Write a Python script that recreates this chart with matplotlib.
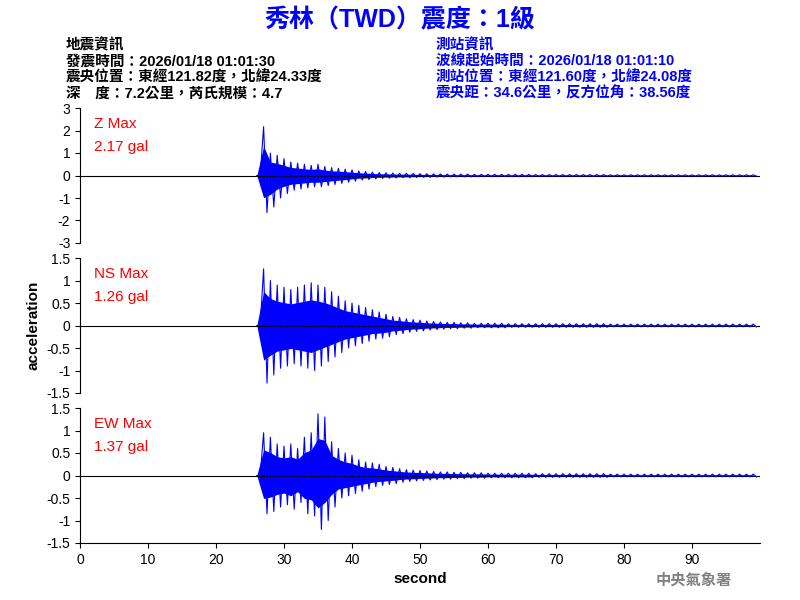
import numpy as np
import matplotlib.pyplot as plt

FAM = ['Liberation Sans', 'Noto Sans CJK TC']
plt.rcParams['font.family'] = FAM

# envelope of each trace, one value per second from 26 s to 99 s
t = list(range(26, 100))
z_up = [0, 2.17, 1.0, 0.9, 0.75, 0.6, 0.55, 0.5, 0.45, 0.5, 0.4, 0.35, 0.32, 0.28, 0.25, 0.2, 0.18, 0.15,
        0.13, 0.12, 0.11, 0.1, 0.1, 0.09, 0.08, 0.08, 0.07, 0.07, 0.06, 0.06, 0.06, 0.06, 0.05, 0.05,
        0.05, 0.05, 0.05, 0.05, 0.05, 0.05, 0.05, 0.04, 0.04, 0.04, 0.04, 0.04, 0.04, 0.04, 0.04, 0.04,
        0.04, 0.04, 0.03, 0.03, 0.03, 0.03, 0.03, 0.03, 0.03, 0.03, 0.03, 0.03, 0.03, 0.03, 0.03, 0.03,
        0.03, 0.03, 0.03, 0.03, 0.03, 0.03, 0.03, 0.03]
z_lo = [0, -1.65, -1.4, -1.0, -0.8, -0.65, -0.6, -0.55, -0.5, -0.5, -0.45, -0.4, -0.35, -0.3, -0.25, -0.2,
        -0.18, -0.15, -0.13, -0.12, -0.11, -0.1, -0.1, -0.09, -0.08, -0.08, -0.07, -0.07, -0.06, -0.06,
        -0.06, -0.06, -0.05, -0.05, -0.05, -0.05, -0.05, -0.05, -0.05, -0.05, -0.05, -0.04, -0.04, -0.04,
        -0.04, -0.04, -0.04, -0.04, -0.04, -0.04, -0.04, -0.04, -0.03, -0.03, -0.03, -0.03, -0.03, -0.03,
        -0.03, -0.03, -0.03, -0.03, -0.03, -0.03, -0.03, -0.03, -0.03, -0.03, -0.03, -0.03, -0.03, -0.03,
        -0.03, -0.03]
ns_up = [0, 1.26, 1.0, 0.9, 0.85, 0.8, 0.85, 0.9, 0.95, 0.9, 0.85, 0.75, 0.65, 0.55, 0.5, 0.45, 0.4, 0.35,
         0.3, 0.25, 0.2, 0.18, 0.15, 0.13, 0.12, 0.1, 0.09, 0.08, 0.07, 0.07, 0.06, 0.06, 0.05, 0.05,
         0.05, 0.05, 0.05, 0.04, 0.04, 0.04, 0.04, 0.04, 0.04, 0.04, 0.04, 0.04, 0.04, 0.04, 0.04, 0.04,
         0.04, 0.04, 0.03, 0.03, 0.03, 0.03, 0.03, 0.03, 0.03, 0.03, 0.03, 0.03, 0.03, 0.03, 0.03, 0.03,
         0.03, 0.03, 0.03, 0.03, 0.03, 0.03, 0.03, 0.03]
ns_lo = [0, -1.28, -1.1, -0.95, -0.9, -0.85, -0.9, -0.95, -1.0, -0.9, -0.8, -0.7, -0.6, -0.5, -0.45, -0.4,
         -0.35, -0.3, -0.28, -0.25, -0.2, -0.18, -0.15, -0.13, -0.12, -0.1, -0.09, -0.08, -0.07, -0.07,
         -0.06, -0.06, -0.05, -0.05, -0.05, -0.05, -0.05, -0.04, -0.04, -0.04, -0.04, -0.04, -0.04, -0.04,
         -0.04, -0.04, -0.04, -0.04, -0.04, -0.04, -0.04, -0.04, -0.03, -0.03, -0.03, -0.03, -0.03, -0.03,
         -0.03, -0.03, -0.03, -0.03, -0.03, -0.03, -0.03, -0.03, -0.03, -0.03, -0.03, -0.03, -0.03, -0.03,
         -0.03, -0.03]
ew_up = [0, 0.95, 0.85, 0.7, 0.65, 0.7, 0.6, 0.85, 0.95, 1.37, 1.3, 0.75, 0.6, 0.5, 0.45, 0.35, 0.3, 0.28,
         0.25, 0.2, 0.18, 0.15, 0.13, 0.12, 0.11, 0.1, 0.09, 0.08, 0.08, 0.07, 0.07, 0.06, 0.06, 0.06,
         0.05, 0.05, 0.05, 0.05, 0.05, 0.05, 0.05, 0.04, 0.04, 0.04, 0.04, 0.04, 0.04, 0.04, 0.04, 0.04,
         0.04, 0.04, 0.03, 0.03, 0.03, 0.03, 0.03, 0.03, 0.03, 0.03, 0.03, 0.03, 0.03, 0.03, 0.03, 0.03,
         0.03, 0.03, 0.03, 0.03, 0.03, 0.03, 0.03, 0.03]
ew_lo = [0, -0.85, -0.8, -0.7, -0.65, -0.75, -0.6, -0.85, -0.9, -1.2, -1.0, -0.7, -0.5, -0.45, -0.4, -0.35,
         -0.3, -0.25, -0.22, -0.2, -0.18, -0.15, -0.13, -0.12, -0.11, -0.1, -0.09, -0.08, -0.08, -0.07,
         -0.07, -0.06, -0.06, -0.06, -0.05, -0.05, -0.05, -0.05, -0.05, -0.05, -0.05, -0.04, -0.04, -0.04,
         -0.04, -0.04, -0.04, -0.04, -0.04, -0.04, -0.04, -0.04, -0.03, -0.03, -0.03, -0.03, -0.03, -0.03,
         -0.03, -0.03, -0.03, -0.03, -0.03, -0.03, -0.03, -0.03, -0.03, -0.03, -0.03, -0.03, -0.03, -0.03,
         -0.03, -0.03]

names = ['Z Max', 'NS Max', 'EW Max']
peaks = ['2.17 gal', '1.26 gal', '1.37 gal']
lims = [3, 1.5, 1.5]
ticks = [[3, 2, 1, 0, -1, -2, -3], [1.5, 1, 0.5, 0, -0.5, -1, -1.5], [1.5, 1, 0.5, 0, -0.5, -1, -1.5]]
tlabels = [['3', '2', '1', '0', '-1', '-2', '-3'],
           ['1.5', '1', '0.5', '0', '-0.5', '-1', '-1.5'],
           ['1.5', '1', '0.5', '0', '-0.5', '-1', '-1.5']]
ups = [z_up, ns_up, ew_up]
los = [z_lo, ns_lo, ew_lo]

fig = plt.figure(figsize=(8, 6), dpi=100)
bottoms = [0.595, 0.345, 0.095]
for i in range(3):
    ax = fig.add_axes([0.1, bottoms[i], 0.85, 0.225])
    ax.axhline(0, color='black', lw=0.8)
    # trace drawn as a zig-zag between the envelope values
    xs, ys = [], []
    for k in range(len(t)):
        xs += [t[k], t[k] + 0.5]
        ys += [ups[i][k], los[i][k]]
    ax.fill_between(t, np.array(los[i]) * 0.6, np.array(ups[i]) * 0.6, color='blue', lw=0)
    ax.plot(xs, ys, color='blue', lw=0.8)
    ax.set_xlim(0, 100)
    ax.set_ylim(-lims[i], lims[i])
    ax.set_yticks(ticks[i])
    ax.set_yticklabels(tlabels[i], fontsize=10)
    for s in ['top', 'right', 'bottom']:
        ax.spines[s].set_visible(False)
    if i < 2:
        ax.set_xticks([])
    else:
        ax.spines['bottom'].set_visible(True)
        ax.set_xticks(range(0, 100, 10))
        ax.tick_params(axis='x', labelsize=10)
        ax.set_xlabel('second', fontsize=11, fontweight='bold')
    ax.text(0.02, 0.93, names[i], transform=ax.transAxes, color='red', fontsize=11, va='top')
    ax.text(0.02, 0.76, peaks[i], transform=ax.transAxes, color='red', fontsize=11, va='top')
    if i == 1:
        ax.set_ylabel('acceleration', fontsize=11, fontweight='bold')

fig.text(0.5, 0.967, '秀林（TWD）震度：1級', color='blue', fontsize=18, fontweight='bold',
         ha='center', va='center')
left = ['地震資訊', '發震時間：2026/01/18 01:01:30', '震央位置：東經121.82度，北緯24.33度',
        '深　度：7.2公里，芮氏規模：4.7']
right = ['測站資訊', '波線起始時間：2026/01/18 01:01:10', '測站位置：東經121.60度，北緯24.08度',
         '震央距：34.6公里，反方位角：38.56度']
for k in range(4):
    fig.text(0.082, 0.925 - k * 0.027, left[k], fontsize=10.5, fontweight='bold', va='center')
    fig.text(0.545, 0.925 - k * 0.027, right[k], fontsize=10.5, fontweight='bold', color='blue', va='center')
fig.text(0.82, 0.032, '中央氣象署', fontsize=11, fontweight='bold', color='gray', va='center')

fig.savefig('out.png')
